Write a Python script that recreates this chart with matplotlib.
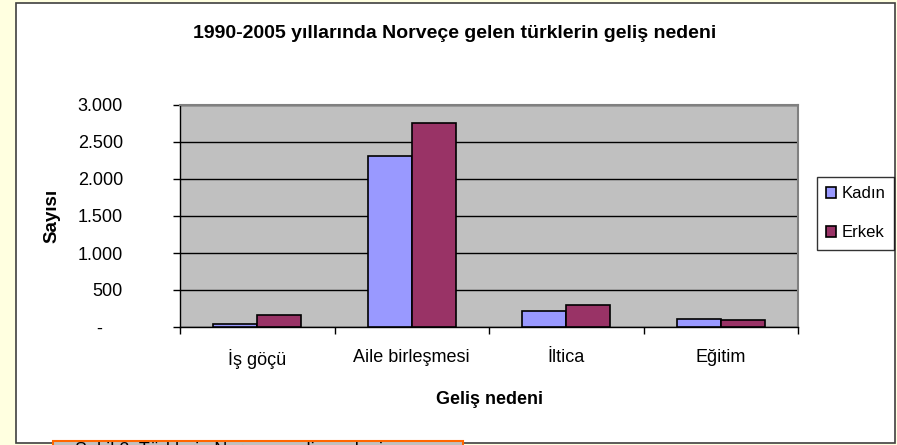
import matplotlib.pyplot as plt
import numpy as np
from matplotlib.patches import Rectangle

categories = ["İş göçü", "Aile birleşmesi", "İltica", "Eğitim"]
kadin = [35, 2315, 212, 104]
erkek = [166, 2753, 297, 100]
yticks = [0, 500, 1000, 1500, 2000, 2500, 3000]
ytick_labels = ["-    ", "500", "1.000", "1.500", "2.000", "2.500", "3.000"]

plt.rcParams["font.family"] = ["Liberation Sans", "DejaVu Sans"]

W, H = 897, 445
fig = plt.figure(figsize=(W / 100, H / 100), dpi=100)
fig.patch.set_facecolor("#FFFFE0")

# white chart frame
fig.patches.append(Rectangle((16 / W, 1 - 443 / H), 879 / W, 440 / H,
                             transform=fig.transFigure, facecolor="white",
                             edgecolor="#404040", linewidth=1.2, zorder=-5))

ax = fig.add_axes([180 / W, 1 - 327 / H, 618 / W, 222 / H])
ax.set_facecolor("#C0C0C0")

x = np.arange(len(categories))
w = 0.285
ax.bar(x - w / 2, kadin, w, color="#9999FF", edgecolor="black", linewidth=1.2,
       label="Kadın", zorder=3)
ax.bar(x + w / 2, erkek, w, color="#993366", edgecolor="black", linewidth=1.2,
       label="Erkek", zorder=3)

ax.set_xlim(-0.5, len(categories) - 0.5)
ax.set_ylim(0, 3000)
ax.set_yticks(yticks)
ax.set_yticklabels(ytick_labels)
ax.yaxis.grid(True, color="black", linewidth=1)
ax.set_axisbelow(True)

ax.set_xticks(x)
ax.set_xticklabels(categories)
ax.set_xticks(np.arange(len(categories) + 1) - 0.5, minor=True)
ax.tick_params(axis="x", which="major", length=0, pad=16, labelsize=13)
ax.tick_params(axis="x", which="minor", length=5, width=1, direction="out")
ax.tick_params(axis="y", length=5, width=1, direction="out", pad=36, labelsize=13)

for s in ["top", "right"]:
    ax.spines[s].set_color("#808080")
    ax.spines[s].set_linewidth(1.5)
for s in ["left", "bottom"]:
    ax.spines[s].set_color("black")
    ax.spines[s].set_linewidth(1)

fig.text(455 / W, 1 - 34 / H, "1990-2005 yıllarında Norveçe gelen türklerin geliş nedeni",
         ha="center", va="center", fontsize=14, fontweight="bold")
fig.text(52 / W, 1 - 216 / H, "Sayısı", rotation=90, ha="center", va="center",
         fontsize=13.5, fontweight="bold")
fig.text(489 / W, 1 - 400 / H, "Geliş nedeni", ha="center", va="center",
         fontsize=13, fontweight="bold")

leg = ax.legend(loc="upper left", bbox_to_anchor=(817 / W, 1 - 177 / H),
                bbox_transform=fig.transFigure, fontsize=12, frameon=True,
                fancybox=False, handlelength=0.6, handleheight=0.6,
                handletextpad=0.3, labelspacing=1.45, borderpad=0.55,
                borderaxespad=0)
leg.get_frame().set_edgecolor("black")
leg.get_frame().set_linewidth(1)

# caption box at the bottom (cut off by the figure edge, as in the source)
fig.patches.append(Rectangle((53 / W, 1 - 470 / H), 410 / W, 29 / H,
                             transform=fig.transFigure, facecolor="#C0C0C0",
                             edgecolor="#FF6600", linewidth=1.5, zorder=5))
fig.text(75 / W, 1 - 442 / H, "Şekil 2: Türklerin Norveçe geliş nedeni",
         ha="left", va="top", fontsize=13, zorder=6)

fig.savefig("out.png", dpi=100, facecolor=fig.get_facecolor())
